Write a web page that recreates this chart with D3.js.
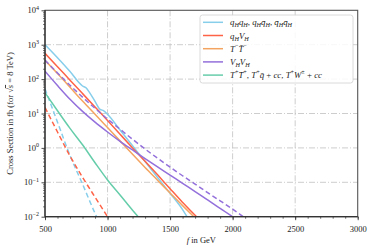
<!DOCTYPE html>
<html><head><meta charset="utf-8">
<script src="https://cdn.jsdelivr.net/npm/d3@7"></script>
<style>body{margin:0;background:#fff}svg text{font-family:"Liberation Serif","DejaVu Serif",serif;fill:#222}</style></head>
<body><svg id="c" width="374" height="251"></svg>
<script>
// ---- data (f in GeV, cross section in fb) ----
const qqF      = [500,600,700,800,830,850,900,940,970,1000,1100,1200,1300,1400,1500,1600,1635];
const qqSig    = [1000,417,166,63,55,44,22.4,13.2,12.0,9.5,3.3,1.15,0.40,0.138,0.048,0.016,0.010];
const qqDF     = [500,600,700,800,900,913];
const qqDSig   = [52,5.6,0.6,0.089,0.0126,0.010];
const qvF      = [500,600,700,800,900,1000,1100,1200,1300,1400,1500,1600,1700,1712];
const qvSig    = [560,230,93,38,15.5,6.3,2.5,1.0,0.41,0.165,0.065,0.026,0.011,0.010];
const qvDF     = [500,600,700,800,900,1000];
const qvDSig   = [15,2.9,0.58,0.14,0.037,0.010];
const ttF      = [500,600,700,800,900,1000,1100,1200,1300,1400,1500,1600,1690];
const ttSig    = [350,145,58,23,9.5,3.9,1.6,0.65,0.27,0.115,0.049,0.021,0.010];
const vvF      = [500,600,700,800,900,1000,1100,1200,1300,1400,1500,1600,1700,1800,1900,2000];
const vvSig    = [170,65,26,11.5,5.6,2.9,1.55,0.87,0.49,0.28,0.162,0.093,0.054,0.031,0.0174,0.010];
const vvDF     = [500,600,700,800,900,1000,1100,1200,1300,1400,1500,1600,1700,1800,1900,2000,2085];
const vvDSig   = [355,151,66,30,14.1,6.9,3.5,1.78,0.93,0.50,0.275,0.155,0.089,0.050,0.029,0.0166,0.010];
const tpF      = [500,600,700,800,900,1000,1100,1200,1245];
const tpSig    = [40,12,3.7,1.23,0.37,0.117,0.043,0.0155,0.010];
const xTicks   = [500,1000,1500,2000,2500,3000];
const yTickExp = [-2,-1,0,1,2,3,4];

const series = [
  {f:qqF, s:qqSig, c:"#87CEEB", dash:null},
  {f:qqDF, s:qqDSig, c:"#87CEEB", dash:"5,3"},
  {f:qvF, s:qvSig, c:"#FF6347", dash:null},
  {f:qvDF, s:qvDSig, c:"#FF6347", dash:"5,3"},
  {f:ttF, s:ttSig, c:"#F4A460", dash:null},
  {f:vvF, s:vvSig, c:"#9370DB", dash:null},
  {f:vvDF, s:vvDSig, c:"#9370DB", dash:"5,3"},
  {f:tpF, s:tpSig, c:"#66CDAA", dash:null}
];

// legend: parts [text, mode] mode: n normal, i italic, bi italic sub, p sup
const legendItems = [
  {c:"#87CEEB", parts:[["q","i"],["H","bi"],["q","i"],["H","bi"],[", ","n"],["q","i"],["H","bi"],["q̄","i"],["H","bi"],[", ","n"],["q̄","i"],["H","bi"],["q̄","i"],["H","bi"]]},
  {c:"#FF6347", parts:[["q","i"],["H","bi"],["V","i"],["H","bi"]]},
  {c:"#F4A460", parts:[["T","i"],["−","p"],["T̄","i"],["−","p"]]},
  {c:"#9370DB", parts:[["V","i"],["H","bi"],["V","i"],["H","bi"]]},
  {c:"#66CDAA", parts:[["T","i"],["+","p"],["T̄","i"],["+","p"],[", ","n"],["T","i"],["+","p"],["q̄","i"],[" + ","n"],["cc","i"],[", ","n"],["T","i"],["+","p"],["W","i"],["±","p"],[" + ","n"],["cc","i"]]}
];

const svg = d3.select("#c");
const L=45, R=357.7, T=10.3, B=216.7;
const x = d3.scaleLinear().domain([500,3000]).range([L,R]);
const y = d3.scaleLog().domain([1e-2,1e4]).range([B,T]);

// grid
const grid = svg.append("g").attr("stroke","#c0c0c0").attr("stroke-width",0.8).attr("stroke-dasharray","6,2,1,2");
xTicks.slice(1,-1).forEach(v=>grid.append("line").attr("x1",x(v)).attr("x2",x(v)).attr("y1",T).attr("y2",B));
yTickExp.slice(1,-1).forEach(e=>grid.append("line").attr("x1",L).attr("x2",R).attr("y1",y(Math.pow(10,e))).attr("y2",y(Math.pow(10,e))));

// clip
svg.append("clipPath").attr("id","clip").append("rect").attr("x",L).attr("y",T).attr("width",R-L).attr("height",B-T);
const line = d3.line().x(d=>x(d[0])).y(d=>y(d[1])).curve(d3.curveMonotoneX);
const lg = svg.append("g").attr("clip-path","url(#clip)");
series.forEach(sr=>{
  lg.append("path").datum(sr.f.map((f,i)=>[f,sr.s[i]]))
    .attr("d",line).attr("fill","none").attr("stroke",sr.c).attr("stroke-width",1.5)
    .attr("stroke-dasharray",sr.dash);
});

// axes
const xAxis = d3.axisBottom(x).tickValues(d3.range(500,3001,100)).tickSize(2).tickFormat("");
svg.append("g").attr("transform",`translate(0,${B})`).call(xAxis).call(g=>{g.select(".domain").remove();g.selectAll("line").attr("stroke","#222").attr("stroke-width",0.7);});
const xMaj = d3.axisBottom(x).tickValues(xTicks).tickSize(3.5).tickFormat(d3.format("d"));
svg.append("g").attr("transform",`translate(0,${B})`).call(xMaj).call(g=>{g.select(".domain").remove();g.selectAll("line").attr("stroke","#222").attr("stroke-width",0.8);
  g.selectAll("text").attr("font-size",8.5).attr("dy","1.0em").attr("fill","#222").style("font-family","Liberation Serif");});

const minors=[];
for(let e=-2;e<4;e++) for(let k=2;k<10;k++) minors.push(k*Math.pow(10,e));
const yMin = d3.axisLeft(y).tickValues(minors).tickSize(2).tickFormat("");
svg.append("g").attr("transform",`translate(${L},0)`).call(yMin).call(g=>{g.select(".domain").remove();g.selectAll("line").attr("stroke","#222").attr("stroke-width",0.6);});
const yMaj = d3.axisLeft(y).tickValues(yTickExp.map(e=>Math.pow(10,e))).tickSize(3.5).tickFormat("");
const yg = svg.append("g").attr("transform",`translate(${L},0)`).call(yMaj);
yg.select(".domain").remove(); yg.selectAll("line").attr("stroke","#222").attr("stroke-width",0.8);
yTickExp.forEach(e=>{
  const t = svg.append("text").attr("x",L-6).attr("y",y(Math.pow(10,e))+3).attr("text-anchor","end").attr("font-size",8.5);
  t.append("tspan").text("10");
  t.append("tspan").attr("dy",-3.5).attr("font-size",6).text(e<0?"−"+(-e):String(e));
});

// frame
svg.append("rect").attr("x",L).attr("y",T).attr("width",R-L).attr("height",B-T).attr("fill","none").attr("stroke","#555").attr("stroke-width",1.1);
svg.append("line").attr("x1",L).attr("x2",R).attr("y1",B).attr("y2",B).attr("stroke","#222").attr("stroke-width",1.1);
svg.append("line").attr("x1",L).attr("x2",L).attr("y1",T).attr("y2",B).attr("stroke","#222").attr("stroke-width",1.1);

// axis labels
const xl = svg.append("text").attr("x",(L+R)/2).attr("y",243).attr("text-anchor","middle").attr("font-size",8.5);
xl.append("tspan").attr("font-style","italic").text("f");
xl.append("tspan").text(" in GeV");
const yl = svg.append("text").attr("transform",`translate(13,${(T+B)/2}) rotate(-90)`).attr("text-anchor","middle").attr("font-size",8.5);
yl.append("tspan").text("Cross Section in fb (for √");
yl.append("tspan").attr("font-style","italic").attr("text-decoration","overline").text("s");
yl.append("tspan").text(" = 8 TeV)");

// legend
const lx=200, ly=15, lw=153, lh=68;
svg.append("rect").attr("x",lx).attr("y",ly).attr("width",lw).attr("height",lh).attr("rx",2.5)
  .attr("fill","#fff").attr("fill-opacity",0.85).attr("stroke","#d0d0d0").attr("stroke-width",0.8);
legendItems.forEach((it,i)=>{
  const yy = ly+7.3+i*13.2;
  svg.append("line").attr("x1",lx+3).attr("x2",lx+23).attr("y1",yy).attr("y2",yy).attr("stroke",it.c).attr("stroke-width",1.5);
  const t = svg.append("text").attr("x",lx+30).attr("y",yy+3).attr("font-size",8.8);
  let off=0;
  it.parts.forEach(([s,m])=>{
    const sp = t.append("tspan").text(s);
    let target=0;
    if(m.includes("b")) target=2;
    if(m==="p") target=-3.8;
    sp.attr("dy",target-off); off=target;
    if(m.includes("i")) sp.attr("font-style","italic");
    if(m.includes("b")||m==="p") sp.attr("font-size",6.2);
  });
});
</script></body></html>
